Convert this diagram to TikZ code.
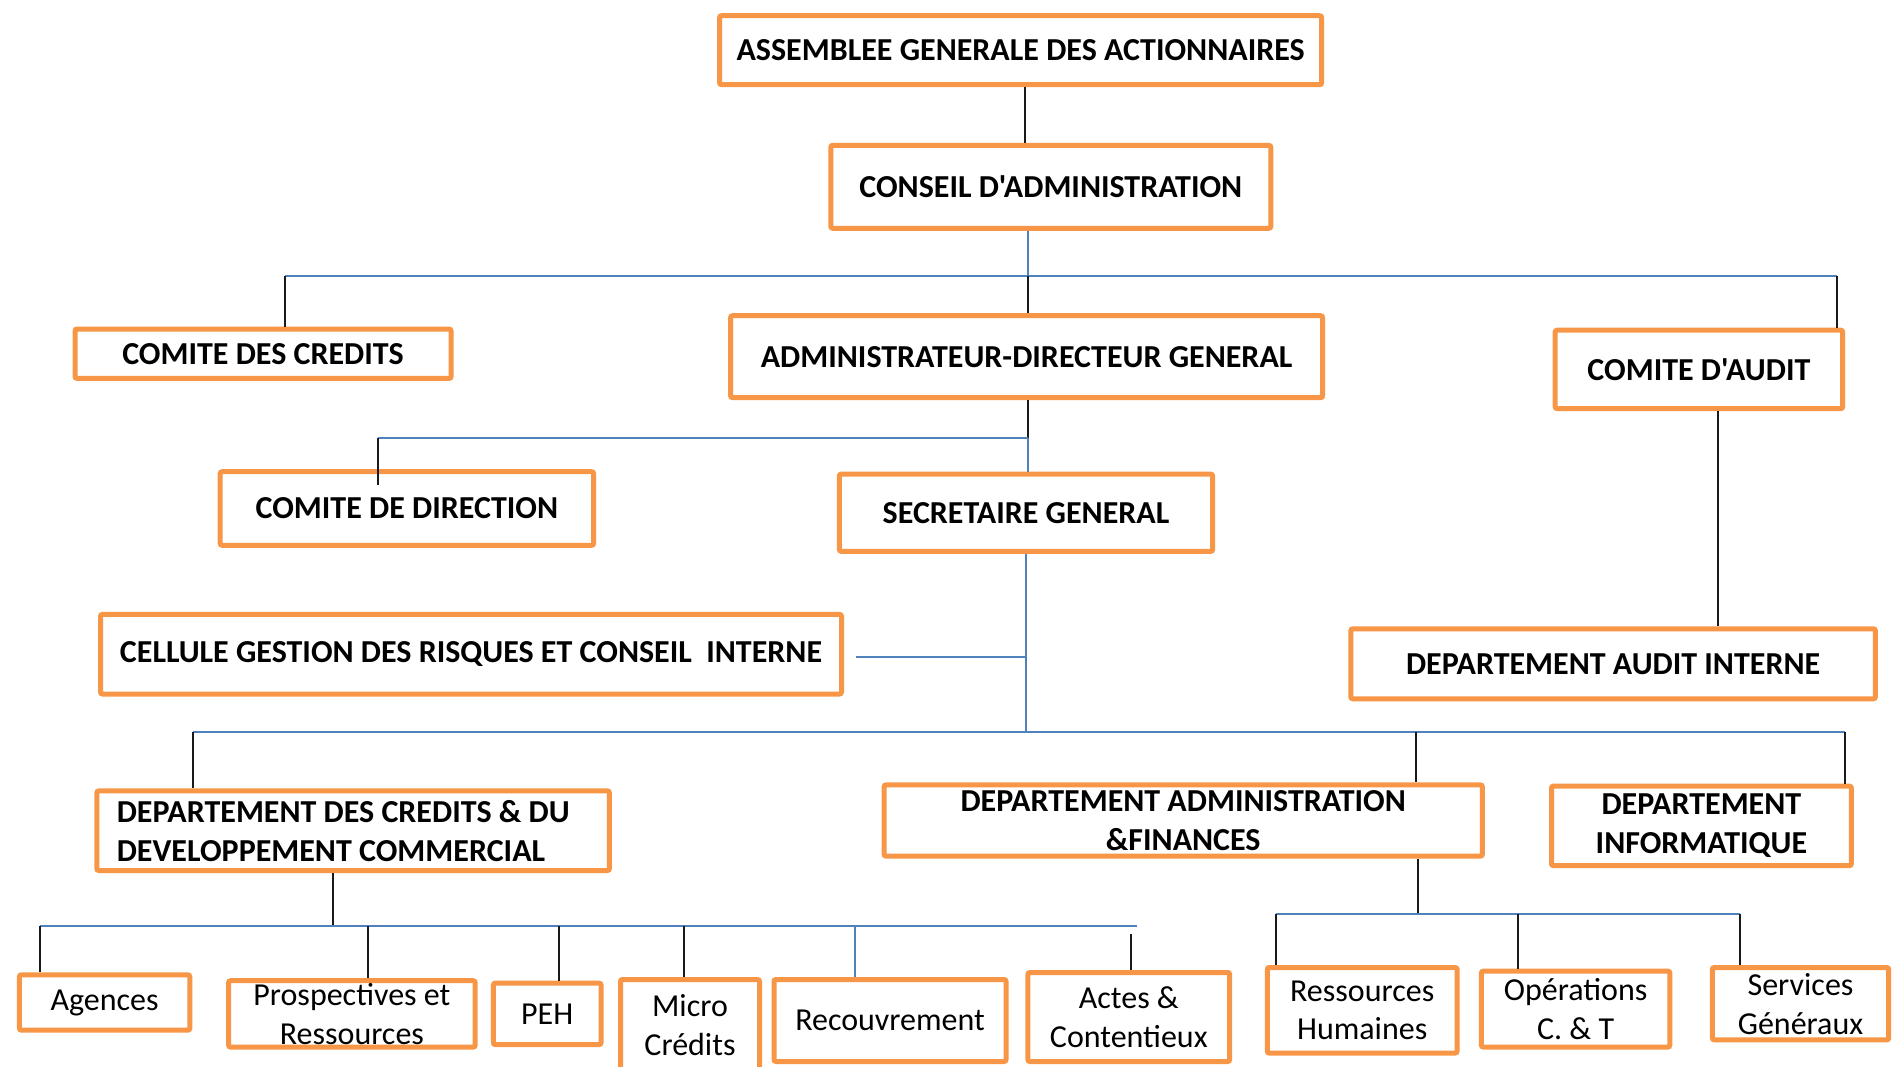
\documentclass[tikz,border=0pt]{standalone}
\usepackage{fontspec}
\setmainfont{Carlito}[Ligatures=TeXOff]
\definecolor{orbox}{HTML}{F79646}
\definecolor{bline}{HTML}{4F81BD}
\definecolor{kline}{HTML}{1A1A1A}
\tikzset{
  obox/.style={draw=orbox, line width=2.5pt, rounded corners=1pt, fill=white, inner sep=0pt, align=center, text=black},
  topbox/.style={obox, font=\bfseries\fontsize{16}{19.4}\selectfont},
  lowbox/.style={obox, font=\fontsize{16}{19.4}\selectfont},
  blk/.style={draw=kline, line width=0.7pt},
  blu/.style={draw=bline, line width=0.7pt},
  bus/.style={draw=bline, line width=1.3pt}
}
\begin{document}
\begin{tikzpicture}[x=0.5pt, y=-0.5pt]
\useasboundingbox (0,0) rectangle (1896,1066);
% ---- boxes
\node[topbox, minimum width=301pt, minimum height=34.5pt] (asm) at (1020.6,50.2) {ASSEMBLEE GENERALE DES ACTIONNAIRES};
\node[topbox, minimum width=220pt, minimum height=41.5pt] (cons) at (1050.8,186.8) {CONSEIL D'ADMINISTRATION};
\node[topbox, minimum width=188pt, minimum height=24.7pt] (cdc) at (263,353.7) {COMITE DES CREDITS};
\node[topbox, minimum width=296pt, minimum height=41pt] (adg) at (1026.6,356.7) {ADMINISTRATEUR-DIRECTEUR GENERAL};
\node[topbox, minimum width=143.8pt, minimum height=39.2pt] (cda) at (1698.9,369.4) {COMITE D'AUDIT};
\node[topbox, minimum width=186.7pt, minimum height=36.8pt] (cdd) at (406.9,508.5) {COMITE DE DIRECTION};
\node[topbox, minimum width=186.7pt, minimum height=38.6pt] (sg) at (1026,512.7) {SECRETAIRE GENERAL};
\node[topbox, minimum width=370.5pt, minimum height=39.8pt] (cel) at (471,654.2) {CELLULE GESTION DES RISQUES ET CONSEIL\ \ INTERNE};
\node[topbox, minimum width=262.3pt, minimum height=35pt] (dai) at (1613.1,663.8) {DEPARTEMENT AUDIT INTERNE};
\node[topbox, align=flush left, inner xsep=10pt, text width=236.3pt, minimum height=39.8pt] (dcr) at (353.1,830.7) {DEPARTEMENT DES CREDITS \& DU\\DEVELOPPEMENT COMMERCIAL};
\node[topbox, minimum width=299.2pt, minimum height=35.6pt] (daf) at (1183.2,820.5) {DEPARTEMENT ADMINISTRATION\\\&FINANCES};
\node[topbox, minimum width=149.9pt, minimum height=39.8pt] (dinf) at (1701.4,825.9) {DEPARTEMENT\\INFORMATIQUE};
\node[lowbox, minimum width=85.2pt, minimum height=27.7pt] (ag) at (104.6,1002.5) {Agences};
\node[lowbox, minimum width=123.3pt, minimum height=33.2pt] (pro) at (351.9,1013.9) {Prospectives et\\Ressources};
\node[lowbox, minimum width=53.8pt, minimum height=30.8pt] (peh) at (547.2,1013.9) {PEH};
\node[lowbox, minimum width=69.5pt, minimum height=45.5pt] (mic) at (690,1025) {Micro\\Crédits};
\node[lowbox, minimum width=116pt, minimum height=41pt] (rec) at (890,1020.5) {Recouvrement};
\node[lowbox, minimum width=100.9pt, minimum height=44.5pt] (act) at (1128.8,1017) {Actes \&\\Contentieux};
\node[lowbox, minimum width=94.9pt, minimum height=42.8pt] (rh) at (1362.2,1010.3) {Ressources\\Humaines};
\node[lowbox, minimum width=94.2pt, minimum height=38pt] (op) at (1575.6,1009.1) {Opérations\\C. \& T};
\node[lowbox, minimum width=88.2pt, minimum height=36.2pt] (sv) at (1800.5,1003.7) {Services\\Généraux};
% ---- bus coordinates
\coordinate (bA1) at (285,276);  \coordinate (bA2) at (1837,276);  \coordinate (bAc) at (1028,276);
\coordinate (bB1) at (378,438);  \coordinate (bB2) at (1028,438);
\coordinate (bC1) at (193,732);  \coordinate (bC2) at (1845,732);  \coordinate (bCc) at (1026,732);
\coordinate (celc) at (1026,657); \coordinate (cele) at (856,657);
\coordinate (bD1) at (40,926);   \coordinate (bD2) at (1137,926);  \coordinate (bDc) at (333,926);
\coordinate (bE1) at (1276,914); \coordinate (bE2) at (1740,914);  \coordinate (bEc) at (1418,914);
% ---- connectors
\draw[blk] (asm.south -| 1025,0) -- (cons.north -| 1025,0);
\draw[bus] (bA1) -- (bA2);
\draw[blu] (cons.south -| bAc) -- (bAc);
\draw[blk] (bAc) -- (adg.north -| bAc);
\draw[blk] (bA1) -- (cdc.north -| bA1);
\draw[blk] (bA2) -- (cda.north -| bA2);
\draw[blk] (adg.south -| bB2) -- (bB2);
\draw[bus] (bB1) -- (bB2);
\draw[blk] (bB1) -- ([yshift=-8pt]cdd.north -| bB1);
\draw[blu] (bB2) -- (sg.north -| bB2);
\draw[blu] (sg.south -| bCc) -- (bCc);
\draw[bus] (cele) -- (celc);
\draw[bus] (bC1) -- (bC2);
\draw[blk] (bC1) -- (dcr.north -| bC1);
\draw[blk] (bC2 -| 1416,0) -- (daf.north -| 1416,0);
\draw[blk] (bC2) -- (dinf.north -| bC2);
\draw[blk] (cda.south -| 1718,0) -- (dai.north -| 1718,0);
\draw[blk] (dcr.south -| bDc) -- (bDc);
\draw[bus] (bD1) -- (bD2);
\draw[blk] (bD1) -- (ag.north -| bD1);
\draw[blk] (bD1 -| 368,0) -- (pro.north -| 368,0);
\draw[blk] (bD1 -| 559,0) -- (peh.north -| 559,0);
\draw[blk] (bD1 -| 684,0) -- (mic.north -| 684,0);
\draw[blu] (bD1 -| 855,0) -- (rec.north -| 855,0);
\draw[blk] ([yshift=-4pt]bD2 -| 1131,0) -- (act.north -| 1131,0);
\draw[blk] (daf.south -| bEc) -- (bEc);
\draw[bus] (bE1) -- (bE2);
\draw[blk] (bE1) -- (rh.north -| bE1);
\draw[blk] (bE1 -| 1518,0) -- (op.north -| 1518,0);
\draw[blk] (bE2) -- (sv.north -| bE2);
\end{tikzpicture}
\end{document}
